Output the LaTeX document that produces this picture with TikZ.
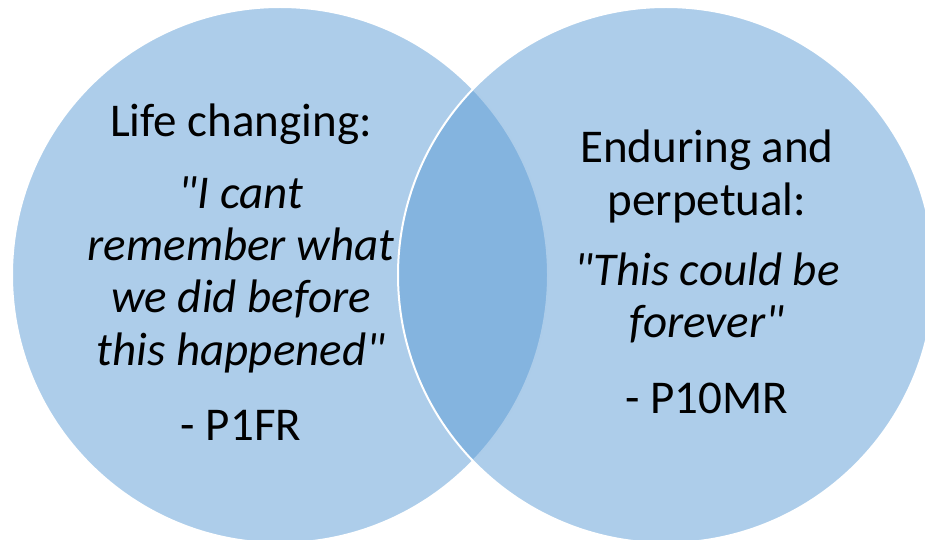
\documentclass[tikz,border=0pt]{standalone}
\usepackage{fontspec}
\setmainfont{Carlito}[Ligatures=TeXOff]
\definecolor{vennblue}{HTML}{5B9BD5}
\begin{document}
\begin{tikzpicture}[x=1pt,y=-1pt,
  venn/.style={circle, minimum size=536pt, inner sep=0pt, fill=vennblue, fill opacity=0.5, draw=white, line width=2pt},
  txt/.style={anchor=base, inner sep=0pt, font=\fontsize{47}{52}\selectfont},
  itx/.style={txt, font=\fontsize{47}{52}\selectfont\itshape}]
\useasboundingbox (0,0) rectangle (925,540);
\node[venn] (L) at (280,275) {};
\node[venn] (R) at (666,275) {};
% left text
\node[txt] (l1) at (241,137) {Life changing:};
\node[itx] (l2) at (241,208) {"I cant};
\node[itx] (l3) at (241,260.3) {remember what};
\node[itx] (l4) at (241,312.6) {we did before};
\node[itx] (l5) at (241,365) {this happened"};
\node[txt] (l6) at (241,440) {- P1FR};
% right text
\node[txt] (r1) at (707,163) {Enduring and};
\node[txt] (r2) at (707,215) {perpetual:};
\node[itx] (r3) at (707,285) {"This could be};
\node[itx] (r4) at (707,337) {forever"};
\node[txt] (r5) at (707,413) {- P10MR};
\end{tikzpicture}
\end{document}
